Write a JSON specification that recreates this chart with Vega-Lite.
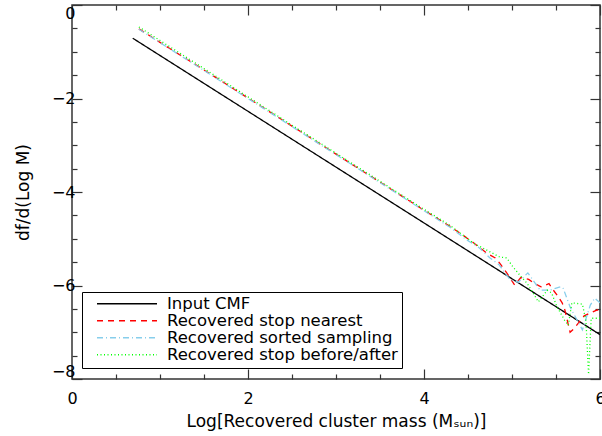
{
  "$schema": "https://vega.github.io/schema/vega-lite/v6.json",
  "width": 528,
  "height": 374,
  "autosize": {"type": "none"},
  "padding": {"left": 72, "top": 5, "right": 2, "bottom": 57},
  "background": "white",
  "config": {
    "view": {"stroke": "#333333", "strokeWidth": 1.5},
    "font": "DejaVu Sans",
    "axis": {
      "labelFont": "DejaVu Sans",
      "labelFontSize": 16,
      "labelColor": "black",
      "titleFont": "DejaVu Sans",
      "titleFontSize": 17,
      "titleFontWeight": "normal",
      "titleColor": "black",
      "domain": false,
      "grid": false,
      "tickColor": "#333333",
      "tickWidth": 1.2,
      "labelFlush": false,
      "labelOverlap": false,
      "format": "d"
    },
    "legend": {
      "labelFont": "DejaVu Sans",
      "labelFontSize": 16.5,
      "labelColor": "black",
      "labelLimit": 400
    }
  },
  "data": {
    "values": [
      {"series": "Input CMF", "x": 0.69, "y": -0.71},
      {"series": "Input CMF", "x": 6.0, "y": -7.05},

      {"series": "Recovered stop nearest", "x": 0.76, "y": -0.51},
      {"series": "Recovered stop nearest", "x": 1.0, "y": -0.8},
      {"series": "Recovered stop nearest", "x": 1.5, "y": -1.39},
      {"series": "Recovered stop nearest", "x": 2.0, "y": -1.99},
      {"series": "Recovered stop nearest", "x": 2.5, "y": -2.59},
      {"series": "Recovered stop nearest", "x": 3.0, "y": -3.19},
      {"series": "Recovered stop nearest", "x": 3.5, "y": -3.79},
      {"series": "Recovered stop nearest", "x": 4.0, "y": -4.39},
      {"series": "Recovered stop nearest", "x": 4.3, "y": -4.74},
      {"series": "Recovered stop nearest", "x": 4.44, "y": -4.92},
      {"series": "Recovered stop nearest", "x": 4.55, "y": -5.07},
      {"series": "Recovered stop nearest", "x": 4.64, "y": -5.2},
      {"series": "Recovered stop nearest", "x": 4.72, "y": -5.32},
      {"series": "Recovered stop nearest", "x": 4.81, "y": -5.41},
      {"series": "Recovered stop nearest", "x": 4.86, "y": -5.52},
      {"series": "Recovered stop nearest", "x": 4.94, "y": -5.73},
      {"series": "Recovered stop nearest", "x": 5.03, "y": -5.99},
      {"series": "Recovered stop nearest", "x": 5.1, "y": -5.83},
      {"series": "Recovered stop nearest", "x": 5.19, "y": -5.87},
      {"series": "Recovered stop nearest", "x": 5.25, "y": -5.95},
      {"series": "Recovered stop nearest", "x": 5.33, "y": -6.03},
      {"series": "Recovered stop nearest", "x": 5.42, "y": -5.96},
      {"series": "Recovered stop nearest", "x": 5.47, "y": -6.1},
      {"series": "Recovered stop nearest", "x": 5.51, "y": -6.2},
      {"series": "Recovered stop nearest", "x": 5.57, "y": -6.37},
      {"series": "Recovered stop nearest", "x": 5.6, "y": -6.52},
      {"series": "Recovered stop nearest", "x": 5.66, "y": -7.0},
      {"series": "Recovered stop nearest", "x": 5.7, "y": -6.93},
      {"series": "Recovered stop nearest", "x": 5.82, "y": -6.65},
      {"series": "Recovered stop nearest", "x": 5.91, "y": -6.57},
      {"series": "Recovered stop nearest", "x": 5.97, "y": -6.52},
      {"series": "Recovered stop nearest", "x": 6.0, "y": -6.61},

      {"series": "Recovered sorted sampling", "x": 0.76, "y": -0.52},
      {"series": "Recovered sorted sampling", "x": 1.5, "y": -1.4},
      {"series": "Recovered sorted sampling", "x": 2.5, "y": -2.6},
      {"series": "Recovered sorted sampling", "x": 3.5, "y": -3.8},
      {"series": "Recovered sorted sampling", "x": 4.0, "y": -4.4},
      {"series": "Recovered sorted sampling", "x": 4.3, "y": -4.76},
      {"series": "Recovered sorted sampling", "x": 4.49, "y": -5.03},
      {"series": "Recovered sorted sampling", "x": 4.62, "y": -5.18},
      {"series": "Recovered sorted sampling", "x": 4.75, "y": -5.41},
      {"series": "Recovered sorted sampling", "x": 4.85, "y": -5.55},
      {"series": "Recovered sorted sampling", "x": 4.98, "y": -5.88},
      {"series": "Recovered sorted sampling", "x": 5.07, "y": -5.93},
      {"series": "Recovered sorted sampling", "x": 5.18, "y": -5.73},
      {"series": "Recovered sorted sampling", "x": 5.32, "y": -6.1},
      {"series": "Recovered sorted sampling", "x": 5.43, "y": -6.1},
      {"series": "Recovered sorted sampling", "x": 5.55, "y": -6.03},
      {"series": "Recovered sorted sampling", "x": 5.58, "y": -6.05},
      {"series": "Recovered sorted sampling", "x": 5.66, "y": -6.46},
      {"series": "Recovered sorted sampling", "x": 5.8, "y": -6.95},
      {"series": "Recovered sorted sampling", "x": 5.89, "y": -6.42},
      {"series": "Recovered sorted sampling", "x": 5.94, "y": -6.27},
      {"series": "Recovered sorted sampling", "x": 6.0, "y": -6.37},

      {"series": "Recovered stop before/after", "x": 0.76, "y": -0.47},
      {"series": "Recovered stop before/after", "x": 1.5, "y": -1.36},
      {"series": "Recovered stop before/after", "x": 2.5, "y": -2.57},
      {"series": "Recovered stop before/after", "x": 3.5, "y": -3.77},
      {"series": "Recovered stop before/after", "x": 4.0, "y": -4.37},
      {"series": "Recovered stop before/after", "x": 4.3, "y": -4.72},
      {"series": "Recovered stop before/after", "x": 4.56, "y": -5.09},
      {"series": "Recovered stop before/after", "x": 4.75, "y": -5.28},
      {"series": "Recovered stop before/after", "x": 4.86, "y": -5.39},
      {"series": "Recovered stop before/after", "x": 4.94, "y": -5.41},
      {"series": "Recovered stop before/after", "x": 5.01, "y": -5.6},
      {"series": "Recovered stop before/after", "x": 5.09, "y": -5.78},
      {"series": "Recovered stop before/after", "x": 5.17, "y": -5.95},
      {"series": "Recovered stop before/after", "x": 5.24, "y": -6.16},
      {"series": "Recovered stop before/after", "x": 5.3, "y": -6.35},
      {"series": "Recovered stop before/after", "x": 5.4, "y": -6.1},
      {"series": "Recovered stop before/after", "x": 5.45, "y": -6.16},
      {"series": "Recovered stop before/after", "x": 5.51, "y": -6.45},
      {"series": "Recovered stop before/after", "x": 5.6, "y": -6.75},
      {"series": "Recovered stop before/after", "x": 5.64, "y": -6.85},
      {"series": "Recovered stop before/after", "x": 5.68, "y": -6.37},
      {"series": "Recovered stop before/after", "x": 5.8, "y": -6.4},
      {"series": "Recovered stop before/after", "x": 5.84, "y": -6.75},
      {"series": "Recovered stop before/after", "x": 5.87, "y": -7.9},
      {"series": "Recovered stop before/after", "x": 5.9, "y": -6.7},
      {"series": "Recovered stop before/after", "x": 6.0, "y": -6.7}
    ]
  },
  "resolve": {"axis": {"x": "independent", "y": "independent"}},
  "layer": [
    {
      "mark": {"type": "line", "strokeWidth": 1.3, "clip": true},
      "encoding": {
        "x": {
          "field": "x", "type": "quantitative",
          "scale": {"domain": [0, 6], "nice": false, "zero": false},
          "axis": {
            "orient": "bottom",
            "title": "Log[Recovered cluster mass (Mₛᵤₙ)]",
            "values": [0, 0.5, 1, 1.5, 2, 2.5, 3, 3.5, 4, 4.5, 5, 5.5, 6],
            "labelExpr": "datum.value % 2 === 0 ? datum.label : ''",
            "tickSize": {"condition": {"test": "datum.value % 2 === 0", "value": -10}, "value": -5},
            "labelPadding": 21,
            "titlePadding": 2
          }
        },
        "y": {
          "field": "y", "type": "quantitative",
          "scale": {"domain": [-8, 0], "nice": false, "zero": false},
          "axis": {
            "orient": "left",
            "title": "df/d(Log M)",
            "titleFontSize": 17,
            "values": [-8, -7.5, -7, -6.5, -6, -5.5, -5, -4.5, -4, -3.5, -3, -2.5, -2, -1.5, -1, -0.5, 0],
            "labelExpr": "datum.value % 2 === 0 ? datum.label : ''",
            "tickSize": {"condition": {"test": "datum.value % 2 === 0", "value": -10}, "value": -5},
            "labelPadding": 7,
            "labelFlush": true,
            "titlePadding": 19
          }
        },
        "color": {
          "field": "series", "type": "nominal",
          "scale": {
            "domain": ["Input CMF", "Recovered stop nearest", "Recovered sorted sampling", "Recovered stop before/after"],
            "range": ["#000000", "#ff0000", "#87ceeb", "#00ff00"]
          },
          "legend": {
            "orient": "none",
            "legendX": 10,
            "legendY": 287,
            "title": null,
            "strokeColor": "black",
            "fillColor": "white",
            "padding": 4,
            "symbolType": "stroke",
            "symbolSize": 3600,
            "symbolStrokeWidth": 1.3,
            "clipHeight": 15.5,
            "rowPadding": -2,
            "symbolOffset": 10,
            "labelOffset": 9,
            "labelLimit": 400,
            "cornerRadius": 0
          }
        },
        "strokeDash": {
          "field": "series", "type": "nominal",
          "scale": {
            "domain": ["Input CMF", "Recovered stop nearest", "Recovered sorted sampling", "Recovered stop before/after"],
            "range": [[1, 0], [6, 5], [6, 3, 1, 3], [1, 2.5]]
          },
          "legend": {
            "orient": "none",
            "legendX": 10,
            "legendY": 287,
            "title": null,
            "strokeColor": "black",
            "fillColor": "white",
            "padding": 4,
            "symbolType": "stroke",
            "symbolSize": 3600,
            "symbolStrokeWidth": 1.3,
            "clipHeight": 15.5,
            "rowPadding": -2,
            "symbolOffset": 10,
            "labelOffset": 9,
            "labelLimit": 400,
            "cornerRadius": 0
          }
        },
        "order": {"field": "x", "type": "quantitative"}
      }
    },
    {
      "mark": {"type": "line", "strokeOpacity": 0},
      "encoding": {
        "x": {
          "field": "x", "type": "quantitative",
          "axis": {
            "orient": "top",
            "title": null,
            "labels": false,
            "values": [0, 0.5, 1, 1.5, 2, 2.5, 3, 3.5, 4, 4.5, 5, 5.5, 6],
            "tickSize": {"condition": {"test": "datum.value % 2 === 0", "value": -10}, "value": -5}
          }
        },
        "y": {
          "field": "y", "type": "quantitative",
          "axis": {
            "orient": "right",
            "title": null,
            "labels": false,
            "values": [-8, -7.5, -7, -6.5, -6, -5.5, -5, -4.5, -4, -3.5, -3, -2.5, -2, -1.5, -1, -0.5, 0],
            "tickSize": {"condition": {"test": "datum.value % 2 === 0", "value": -10}, "value": -5}
          }
        },
        "detail": {"field": "series", "type": "nominal"}
      }
    }
  ]
}
